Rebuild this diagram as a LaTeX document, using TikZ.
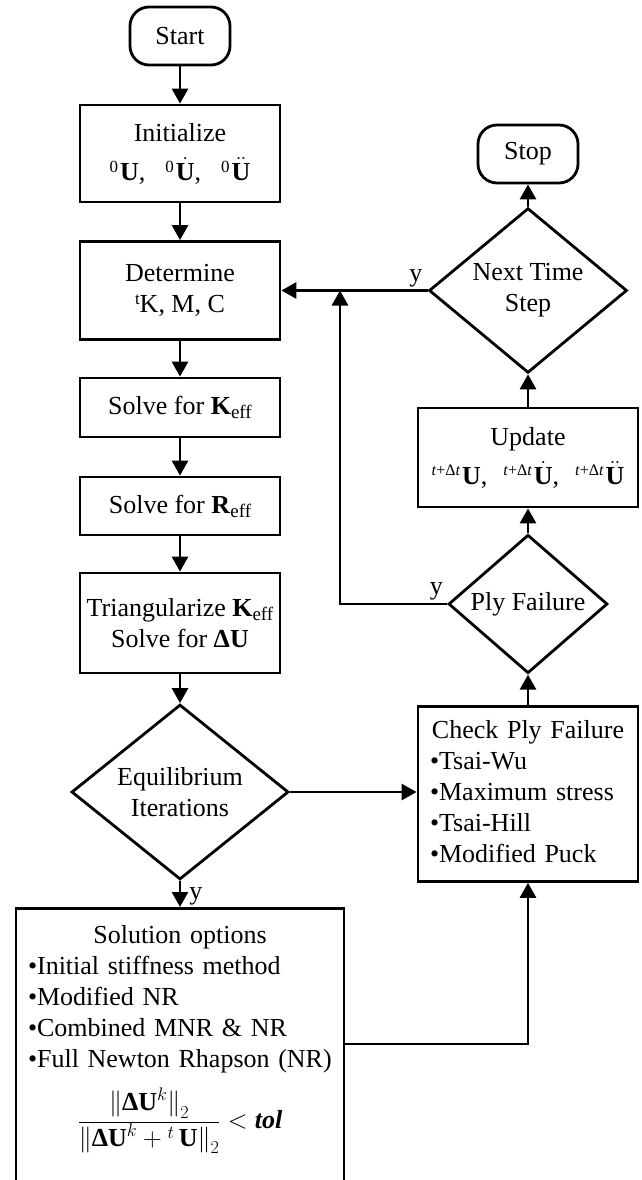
\RequirePackage{fix-cm}
\documentclass[tikz,border=0pt]{standalone}
\usepackage[no-math]{fontspec}
\setmainfont{Liberation Serif}
\usetikzlibrary{shapes.geometric,arrows.meta}
\newcommand{\bU}{\mbox{\bfseries U}}
\newcommand{\mysup}[1]{\raisebox{8pt}{\fontsize{17}{17}\selectfont #1}}
\newcommand{\mysub}[1]{\raisebox{-4pt}{\fontsize{19}{19}\selectfont #1}}
\newcommand{\tdt}{\raisebox{9pt}{\fontsize{16}{16}\selectfont\itshape t\/\upshape+Δ\itshape t}\hspace{2pt}}
\begin{document}
\begin{tikzpicture}[x=1pt,y=-1pt,
  every node/.style={font=\fontsize{26}{31}\selectfont},
  box/.style={draw, line width=2.8pt, minimum width=200pt, align=center, inner sep=0pt},
  term/.style={draw, rounded corners=19pt, line width=2.8pt, minimum width=100pt, minimum height=58pt, inner sep=0pt},
  dec/.style={diamond, draw, line width=2.8pt, align=center, inner sep=0pt},
  listbox/.style={draw, line width=2.8pt, anchor=north, inner xsep=12pt, inner ysep=0pt, align=left},
  arr/.style={line width=2.8pt, -{Triangle[length=15pt,width=16pt]}},
  lbl/.style={inner sep=2pt}]
\useasboundingbox (0,0) rectangle (641,1180);
\clip (0,0) rectangle (641,1180);

% left column
\node[term] (start) at (180,36) {Start};
\node[box, minimum height=97pt] (init) at (180,153.5)
  {Initialize\\[8pt]\mysup{0}\hspace{2pt}\textbf{U},\hspace{20pt}\mysup{0}\hspace{2pt}$\dot{\bU}$,\hspace{20pt}\mysup{0}\hspace{2pt}$\ddot{\bU}$};
\node[box, minimum height=98pt] (det) at (180,290.5) {Determine\\\mysup{t}K, M, C};
\node[box, minimum height=59pt] (keff) at (180,407.5) {Solve for \textbf{K}\mysub{eff}};
\node[box, minimum height=58pt] (reff) at (180,506) {Solve for \textbf{R}\mysub{eff}};
\node[box, minimum height=100pt] (tri) at (180,623)
  {Triangularize \textbf{K}\mysub{eff}\\Solve for \textbf{ΔU}};
\node[dec, minimum width=217pt, minimum height=161pt] (eq) at (180,792) {Equilibrium\\Iterations};
\node[listbox, minimum width=328pt, text width=304pt, text height=35pt, text depth=290pt] (sol) at (180,907)
  {\makebox[304pt][c]{Solution options}\\
   \textbullet Initial stiffness method\\
   \textbullet Modified NR\\
   \textbullet Combined MNR \& NR\\
   \textbullet Full Newton Rhapson (NR)\\[14pt]
   \makebox[304pt][c]{$\displaystyle\frac{\Bigl\|\mbox{\bfseries ΔU}^{k}\Bigr\|_2}{\Bigl\|\mbox{\bfseries ΔU}^{k}+{}^{t}\,\bU\Bigr\|_2}<\mbox{\bfseries\itshape tol}$}};

% right column
\node[term] (stop) at (528,154) {Stop};
\node[dec, minimum width=198pt, minimum height=145pt] (next) at (528,290.5) {Next Time\\Step};
\node[box, minimum width=220pt, minimum height=99pt] (upd) at (528,457.5)
  {Update\\[8pt]\tdt\textbf{U},\hspace{16pt}\tdt$\dot{\bU}$,\hspace{16pt}\tdt$\ddot{\bU}$};
\node[dec, minimum width=159pt, minimum height=117pt] (ply) at (528,604) {Ply Failure};
\node[listbox, minimum width=220pt, text width=196pt, text height=32pt, text depth=143pt] (chk) at (528,705)
  {\makebox[196pt][c]{Check Ply Failure}\\
   \textbullet Tsai-Wu\\
   \textbullet Maximum stress\\
   \textbullet Tsai-Hill\\
   \textbullet Modified Puck};

\coordinate (join) at (340,290.5);
\coordinate (bend) at (528,1044);

% connectors
\draw[arr] (start) -- (init);
\draw[arr] (init) -- (det);
\draw[arr] (det) -- (keff);
\draw[arr] (keff) -- (reff);
\draw[arr] (reff) -- (tri);
\draw[arr] (tri) -- (eq);
\draw[arr] (eq.south) -- node[lbl, right, xshift=6pt, yshift=-2pt]{y} (eq.south |- sol.north);
\draw[arr] (eq.east) -- (eq.east -| chk.west);
\draw[arr] (bend -| sol.east) -- (bend) -- (chk.south);
\draw[arr] (chk) -- (ply);
\draw[arr] (ply) -- (upd);
\draw[arr] (upd) -- (next);
\draw[arr] (next) -- (stop);
\draw[arr] (next.west) -- node[lbl, pos=0.08, above]{y} (det.east |- next.west);
\draw[arr] (ply.west) -| node[lbl, pos=0.05, above]{y} (join);
\end{tikzpicture}
\end{document}
